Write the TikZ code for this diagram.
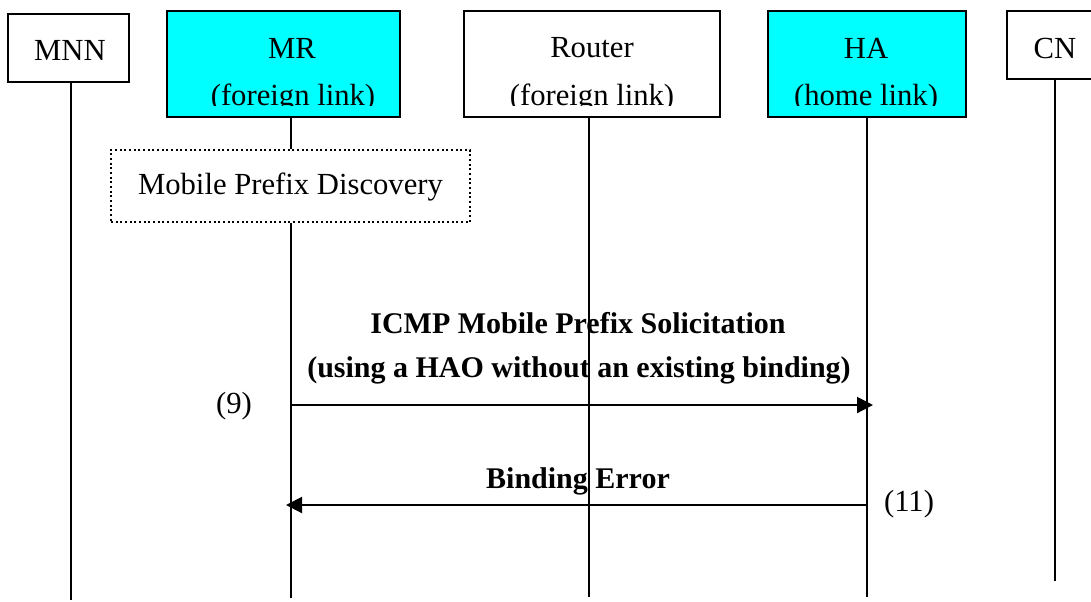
\documentclass[tikz,border=0pt]{standalone}
\usepackage{fontspec}
\setmainfont{Liberation Serif}
\usetikzlibrary{arrows.meta}
\definecolor{boxcyan}{RGB}{0,255,255}
\begin{document}
\begin{tikzpicture}[x=0.75pt,y=-0.75pt,
  ent/.style={draw, line width=1.5pt, inner sep=0pt},
  txt/.style={font=\fontsize{23}{27}\selectfont, inner sep=0pt},
  msg/.style={font=\fontsize{22.5}{27}\selectfont\bfseries, inner sep=0pt},
  life/.style={line width=1.5pt},
  arr/.style={line width=1.5pt,-{Triangle[length=12pt,width=12pt]}}]
\useasboundingbox (0,0) rectangle (1091,601);
\clip (0,0) rectangle (1091,601);
% entity boxes
\node (mnn) [ent, minimum width=90.75pt, minimum height=51pt] at (68.5,48) {};
\node (mr) [ent, fill=boxcyan, minimum width=174.75pt, minimum height=79.5pt] at (283.5,64) {};
\node (rt) [ent, minimum width=192pt, minimum height=79.5pt] at (592,64) {};
\node (ha) [ent, fill=boxcyan, minimum width=148.5pt, minimum height=79.5pt] at (867,64) {};
\node (cn) [ent, minimum width=69.75pt, minimum height=51pt] at (1053.5,45) {};
\node (mpd) [ent, dotted, minimum width=269.25pt, minimum height=54pt] at (290.5,186) {};
% box texts
\node (tmnn) [txt] at (70,50) {MNN};
\node (tmr) [txt] at (292,48) {MR};
\node (trt) [txt] at (592,48) {Router};
\node (tha) [txt] at (866,48) {HA};
\node (tcn) [txt] at (1055,48) {CN};
\begin{scope}
\clip (0,0) rectangle (1091,105);
\node (tmr2) [txt] at (293,98) {(foreign link)};
\node (trt2) [txt] at (592,98) {(foreign link)};
\node (tha2) [txt] at (866,98) {(home link)};
\end{scope}
\node (tmpd) [txt] at (290.5,187) {Mobile Prefix Discovery};
% lifeline ends
\coordinate (mnnb) at (71,600);
\coordinate (mrb) at (291,598);
\coordinate (rtb) at (589,597);
\coordinate (hab) at (867,597);
\coordinate (cnb) at (1055,581);
\draw[life] (mnn.south -| mnnb) -- (mnnb);
\draw[life] (mr.south -| mrb) -- (mpd.north -| mrb);
\draw[life] (mpd.south -| mrb) -- (mrb);
\draw[life] (rt.south -| rtb) -- (rtb);
\draw[life] (ha.south -| hab) -- (hab);
\draw[life] (cn.south -| cnb) -- (cnb);
% messages
\coordinate (m9a) at (291,405);
\coordinate (m9b) at (873,405);
\coordinate (m11a) at (867,505);
\coordinate (m11b) at (286,505);
\draw[arr] (m9a) -- (m9b);
\draw[arr] (m11a) -- (m11b);
\node (l9a) [msg] at (578,323) {ICMP Mobile Prefix Solicitation};
\node (l9b) [msg] at (579,370) {(using a HAO without an existing binding)};
\node (l11) [msg] at (578,481) {Binding Error};
\node (n9) [txt] at (234,406) {(9)};
\node (n11) [txt] at (909,504) {(11)};
\end{tikzpicture}
\end{document}
